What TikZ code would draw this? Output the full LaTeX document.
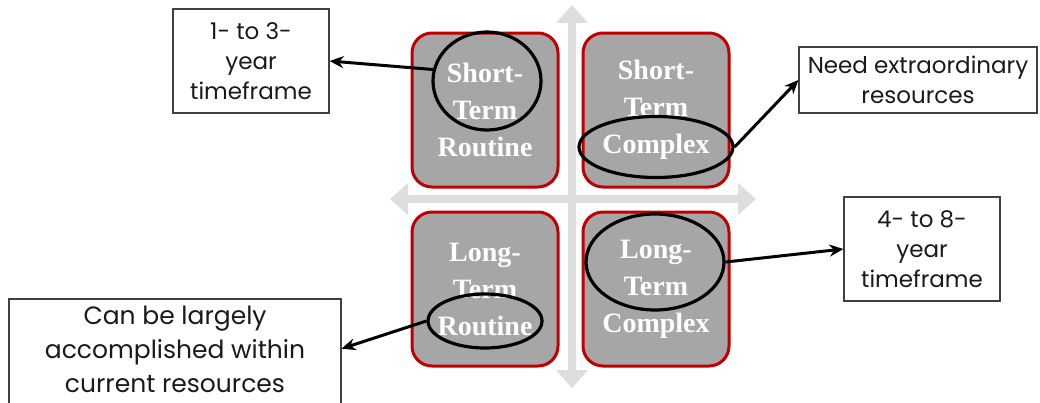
\documentclass[tikz,border=0pt]{standalone}
\usepackage{fontspec}
\setmainfont{Liberation Serif}
\newfontfamily\calloutfont{Poppins}
\usetikzlibrary{arrows.meta,shapes.geometric}
\definecolor{quadfill}{HTML}{A6A6A6}
\definecolor{quadred}{HTML}{C00000}
\definecolor{axisgray}{HTML}{DEDEDE}
\definecolor{calltext}{HTML}{1A1A1A}
\definecolor{callline}{HTML}{404040}
\tikzset{
  quad/.style={draw=quadred, line width=3pt, fill=quadfill, rounded corners=20pt,
    minimum width=146pt, minimum height=154pt, inner sep=0pt, align=center,
    text=white, font=\bfseries\fontsize{28}{37}\selectfont},
  callout/.style={draw=callline, line width=1.1pt, fill=white, align=center, inner sep=0pt,
    text=calltext, font=\calloutfont\fontsize{23}{30}\selectfont},
  ring/.style={draw=black, ellipse, line width=3.2pt, inner sep=0pt},
  pointer/.style={draw=black, line width=3pt, -{Stealth[length=14pt,width=12pt]}},
  axis/.style={draw=axisgray, line width=8pt,
    {Triangle[length=18pt,width=31pt]}-{Triangle[length=18pt,width=31pt]}}
}
\begin{document}
\begin{tikzpicture}[x=1pt,y=-1pt]
\useasboundingbox (0,0) rectangle (1040,402);
\clip (0,0) rectangle (1040,402);
% axes
\coordinate (vt) at (572,5);
\coordinate (vb) at (572,388);
\coordinate (hl) at (390,199);
\coordinate (hr) at (756,199);
\draw[axis] (vb) -- (vt);
\draw[axis] (hl) -- (hr);
% quadrants
\node[quad] (q1) at (485,110) {Short-\\Term\\Routine};
\node[quad] (q2) at (656,110) {Short-\\Term\\Complex};
\node[quad] (q3) at (485,289) {Long-\\Term\\Routine};
\node[quad] (q4) at (656,289) {Long-\\Term\\Complex};
% rings
\node[ring, minimum width=108pt, minimum height=98pt] (e1) at (487,81) {};
\node[ring, minimum width=154pt, minimum height=61pt] (e2) at (656,147) {};
\node[ring, minimum width=114pt, minimum height=54pt] (e3) at (485,321) {};
\node[ring, minimum width=138pt, minimum height=96pt] (e4) at (655,262) {};
% callouts
\node[callout, minimum width=156pt, minimum height=104pt] (c1) at (251,61) {1- to 3-\\year\\timeframe};
\node[callout, minimum width=238pt, minimum height=66pt] (c2) at (918,80) {Need extraordinary\\resources};
\node[callout, minimum width=156pt, minimum height=104pt] (c3) at (922,249) {4- to 8-\\year\\timeframe};
\node[callout, minimum width=332pt, minimum height=111pt] (c4) at (175,354.5) {};
\node[align=center, inner sep=0pt, text=calltext, font=\calloutfont\fontsize{25}{34}\selectfont] (c4t) at (175,349) {Can be largely\\accomplished within\\current resources};
% pointers
\draw[pointer] (e1.168) -- (c1.east);
\draw[pointer] (e2.east) -- (c2.west);
\draw[pointer] (e3.west) -- (c4.2);
\draw[pointer] (e4.east) -- (c3.west);
\end{tikzpicture}
\end{document}
